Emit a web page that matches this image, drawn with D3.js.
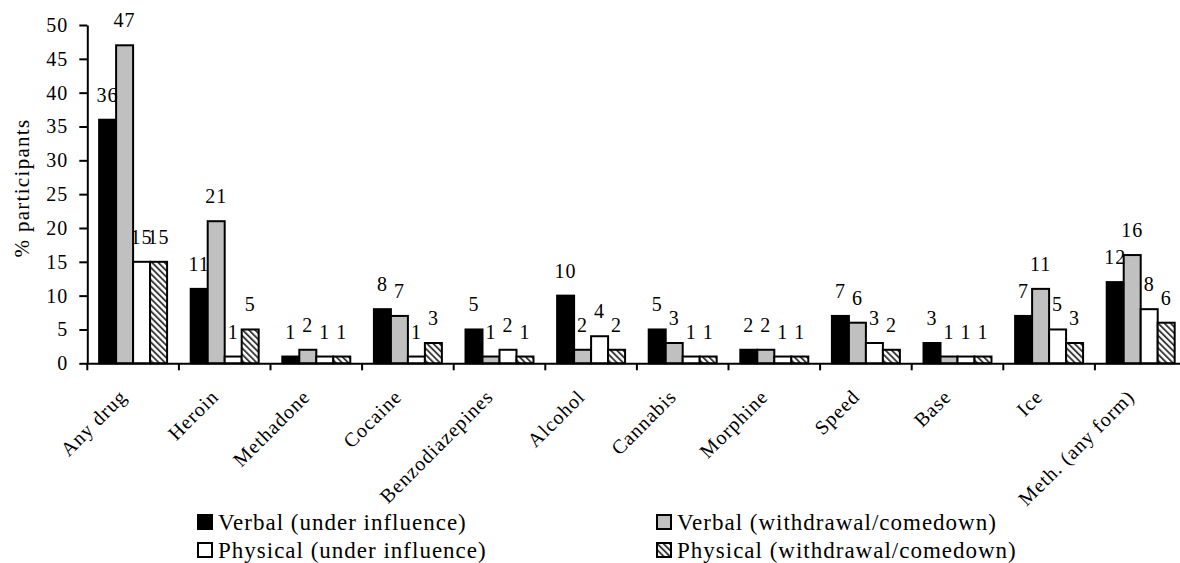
<!DOCTYPE html>
<html>
<head>
<meta charset="utf-8">
<script src="https://cdn.jsdelivr.net/npm/d3@7/dist/d3.min.js"></script>
<style>
  html, body { margin: 0; padding: 0; background: #fff; }
  svg { display: block; }
  text { font-family: "Liberation Serif", "Times New Roman", serif; fill: #000; }
</style>
</head>
<body>
<svg id="chart" width="1180" height="563"></svg>
<script>
const categories = ["Any drug", "Heroin", "Methadone", "Cocaine", "Benzodiazepines", "Alcohol",
  "Cannabis", "Morphine", "Speed", "Base", "Ice", "Meth. (any form)"];
const seriesNames = ["Verbal (under influence)", "Verbal (withdrawal/comedown)",
  "Physical (under influence)", "Physical (withdrawal/comedown)"];
const verbalInfluence    = [36, 11, 1, 8, 5, 10, 5, 2, 7, 3, 7, 12];
const verbalWithdrawal   = [47, 21, 2, 7, 1, 2, 3, 2, 6, 1, 11, 16];
const physicalInfluence  = [15, 1, 1, 1, 2, 4, 1, 1, 3, 1, 5, 8];
const physicalWithdrawal = [15, 5, 1, 3, 1, 2, 1, 1, 2, 1, 3, 6];
const yTicks = [0, 5, 10, 15, 20, 25, 30, 35, 40, 45, 50];
const yTitle = "% participants";

const seriesValues = [verbalInfluence, verbalWithdrawal, physicalInfluence, physicalWithdrawal];
const fills = ["#000000", "#c0c0c0", "#ffffff", "url(#hatch)"];

const svg = d3.select("#chart");
const defs = svg.append("defs");
const pat = defs.append("pattern").attr("id", "hatch")
  .attr("patternUnits", "userSpaceOnUse").attr("width", 4.4).attr("height", 4.4)
  .attr("patternTransform", "rotate(-45)");
pat.append("rect").attr("width", 4.4).attr("height", 4.4).attr("fill", "#fff");
pat.append("rect").attr("width", 1.9).attr("height", 4.4).attr("fill", "#3a3a3a");

const left = 87.3, right = 1186.5, y0px = 363.3, y50px = 25;
const x0 = d3.scaleBand().domain(categories).range([left, right]).padding(0);
const bw = x0.bandwidth();
const gap = bw * 0.129;
const x1 = d3.scaleBand().domain(d3.range(4)).range([gap, bw - gap]).padding(0);
const y = d3.scaleLinear().domain([0, 50]).range([y0px, y50px]);

// bars
const groups = svg.append("g").selectAll("g").data(categories).join("g")
  .attr("transform", d => `translate(${x0(d)},0)`);
groups.selectAll("rect").data((d, i) => seriesValues.map((s, k) => ({k, v: s[i]})))
  .join("rect")
  .attr("x", d => x1(d.k))
  .attr("y", d => y(d.v))
  .attr("width", x1.bandwidth())
  .attr("height", d => y(0) - y(d.v))
  .attr("fill", d => fills[d.k])
  .attr("stroke", "#000").attr("stroke-width", 2);

// data labels
groups.selectAll("text.lbl").data((d, i) => seriesValues.map((s, k) => ({k, v: s[i]})))
  .join("text").attr("class", "lbl")
  .attr("x", d => x1(d.k) + x1.bandwidth() / 2)
  .attr("y", d => y(d.v) - 18)
  .attr("text-anchor", "middle")
  .style("font-size", "20px").style("letter-spacing", "1px")
  .text(d => d.v);

// y axis
const yAxis = svg.append("g").attr("transform", `translate(${left},0)`)
  .call(d3.axisLeft(y).tickValues(yTicks).tickSize(8).tickPadding(11).tickSizeOuter(0));
yAxis.select(".domain").attr("stroke", "#000").attr("stroke-width", 2);
yAxis.selectAll(".tick line").attr("stroke", "#000").attr("stroke-width", 2);
yAxis.selectAll(".tick text").style("font-family", "Liberation Serif, serif")
  .style("font-size", "20px").style("letter-spacing", "1px").attr("fill", "#000");

// x axis
const xAxis = svg.append("g").attr("transform", `translate(0,${y0px})`)
  .call(d3.axisBottom(x0).tickSize(0).tickFormat(""));
xAxis.select(".domain").attr("stroke", "#000").attr("stroke-width", 2);
xAxis.selectAll(".tick").remove();
const bounds = categories.map(c => x0(c));
svg.append("g").selectAll("line").data(bounds).join("line")
  .attr("x1", d => d).attr("x2", d => d)
  .attr("y1", y0px).attr("y2", y0px + 7)
  .attr("stroke", "#000").attr("stroke-width", 2);

// category labels
svg.append("g").selectAll("text").data(categories).join("text")
  .attr("transform", d => `translate(${x0(d) + bw / 2 - 5},398) rotate(-45)`)
  .attr("text-anchor", "end")
  .style("font-size", "20px").style("letter-spacing", "1px")
  .text(d => d);

// y title
svg.append("text")
  .attr("transform", "translate(29,188) rotate(-90)")
  .attr("text-anchor", "middle")
  .style("font-size", "21px").style("letter-spacing", "1.3px")
  .text(yTitle);

// legend
const legPos = [[197, 522], [656, 522], [197, 550], [656, 550]];
const leg = svg.append("g").selectAll("g").data(seriesNames).join("g")
  .attr("transform", (d, i) => `translate(${legPos[i][0]},${legPos[i][1]})`);
leg.append("rect").attr("x", 1).attr("y", -7).attr("width", 14).attr("height", 14)
  .attr("fill", (d, i) => fills[i]).attr("stroke", "#000").attr("stroke-width", 2);
leg.append("text").attr("x", 21).attr("y", 8)
  .style("font-size", "23px").style("letter-spacing", "1px")
  .text(d => d);
</script>
</body>
</html>
